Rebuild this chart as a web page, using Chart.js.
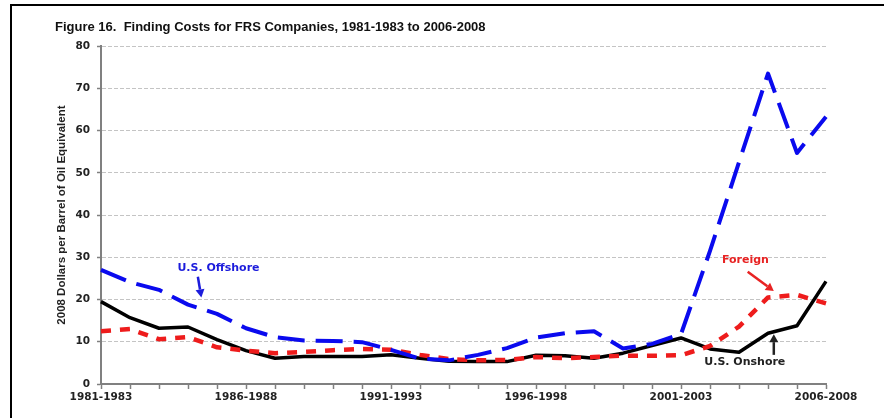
<!DOCTYPE html>
<html><head><meta charset="utf-8">
<script src="https://cdn.jsdelivr.net/npm/chart.js@4"></script>
<style>
html,body{margin:0;padding:0;background:#fff;}
#wrap{position:relative;width:884px;height:418px;overflow:hidden;background:#fff;}
#frame{position:absolute;left:10px;top:4px;width:900px;height:500px;border-top:2.5px solid #000;border-left:2px solid #000;}
canvas{position:absolute;left:0;top:0;}
</style></head><body>
<div id="wrap"><div id="frame"></div><canvas id="c" width="884" height="418"></canvas></div>
<script>
const categories = ['1981-1983','1982-1984','1983-1985','1984-1986','1985-1987','1986-1988','1987-1989','1988-1990','1989-1991','1990-1992','1991-1993','1992-1994','1993-1995','1994-1996','1995-1997','1996-1998','1997-1999','1998-2000','1999-2001','2000-2002','2001-2003','2002-2004','2003-2005','2004-2006','2005-2007','2006-2008'];
const onshore  = [19.5, 15.7, 13.2, 13.5, 10.5, 7.9, 6.1, 6.5, 6.5, 6.5, 6.9, 6.1, 5.4, 5.3, 5.3, 6.8, 6.7, 6.1, 7.3, 9.1, 10.9, 8.3, 7.5, 12.0, 13.8, 24.3];
const offshore = [27.0, 24.1, 22.3, 18.8, 16.6, 13.2, 11.1, 10.3, 10.2, 9.9, 8.1, 6.0, 5.6, 6.9, 8.5, 11.0, 12.0, 12.5, 8.4, 9.5, 11.8, 31.5, 52.5, 73.5, 54.7, 63.3];
const foreign  = [12.5, 13.0, 10.6, 11.1, 8.7, 7.9, 7.3, 7.6, 8.0, 8.3, 8.1, 6.9, 5.9, 5.6, 5.7, 6.4, 6.1, 6.4, 6.7, 6.7, 6.8, 9.0, 13.6, 20.5, 21.1, 19.1];
const yMin = 0, yMax = 80, yStep = 10;
const labelEvery = 5;

const notes = [
  {text:'U.S. Offshore', color:'#1c1cdc', at:[4.05,27.5], from:[3.34,25.4], to:[3.46,20.5]},
  {text:'Foreign',       color:'#e82323', at:[22.22,29.3], from:[22.3,26.6], to:[23.2,22.0]},
  {text:'U.S. Onshore',  color:'#222222', at:[22.2,5.2],  from:[23.2,6.9],  to:[23.2,11.8]}
];

const notesPlugin = {
  id:'notes',
  afterDatasetsDraw(chart){
    const {ctx, scales:{x, y}} = chart;
    notes.forEach(n => {
      ctx.save();
      ctx.fillStyle = n.color; ctx.strokeStyle = n.color;
      ctx.font = 'bold 11px "DejaVu Sans"';
      ctx.textAlign = 'center'; ctx.textBaseline = 'middle';
      ctx.fillText(n.text, x.getPixelForValue(n.at[0]), y.getPixelForValue(n.at[1]));
      const x1 = x.getPixelForValue(n.from[0]), y1 = y.getPixelForValue(n.from[1]);
      const x2 = x.getPixelForValue(n.to[0]),   y2 = y.getPixelForValue(n.to[1]);
      const ang = Math.atan2(y2 - y1, x2 - x1);
      const hl = 8, hw = 4.5;
      const bx = x2 - hl * Math.cos(ang), by = y2 - hl * Math.sin(ang);
      ctx.lineWidth = 2.5;
      ctx.beginPath(); ctx.moveTo(x1, y1); ctx.lineTo(bx, by); ctx.stroke();
      ctx.beginPath();
      ctx.moveTo(x2, y2);
      ctx.lineTo(bx + hw * Math.sin(ang), by - hw * Math.cos(ang));
      ctx.lineTo(bx - hw * Math.sin(ang), by + hw * Math.cos(ang));
      ctx.closePath(); ctx.fill();
      ctx.restore();
    });
  }
};

const tickFont = {family:'DejaVu Sans', weight:'bold', size:10.5};

new Chart(document.getElementById('c').getContext('2d'), {
  type:'line',
  data:{
    labels:categories,
    datasets:[
      {label:'U.S. Offshore', data:offshore, borderColor:'#0a0aee', borderWidth:4, borderDash:[27,11], pointRadius:0, tension:0, fill:false, borderCapStyle:'butt', borderJoinStyle:'round'},
      {label:'Foreign', data:foreign, borderColor:'#ee1c1c', borderWidth:4.5, borderDash:[10,9], pointRadius:0, tension:0, fill:false, borderCapStyle:'butt', borderJoinStyle:'round'},
      {label:'U.S. Onshore', data:onshore, borderColor:'#000000', borderWidth:3.5, pointRadius:0, tension:0, fill:false, borderJoinStyle:'round'}
    ]
  },
  options:{
    responsive:false, animation:false, devicePixelRatio:1,
    layout:{padding:{left:55, right:58, top:0, bottom:13}},
    plugins:{
      legend:{display:false}, tooltip:{enabled:false},
      title:{display:true, text:'Figure 16.  Finding Costs for FRS Companies, 1981-1983 to 2006-2008', align:'start', color:'#111',
        font:{family:'Liberation Sans', weight:'bold', size:13}, padding:{top:19.5, bottom:11}}
    },
    scales:{
      x:{
        type:'category', offset:false,
        afterFit(s){ s.height = 21; s.paddingLeft = 0; s.paddingRight = 0; },
        grid:{drawOnChartArea:false, tickLength:5, tickColor:'#808080', tickWidth:1.5},
        border:{color:'#808080', width:2},
        ticks:{autoSkip:false, maxRotation:0, minRotation:0, padding:2, color:'#222', font:tickFont,
          callback:(v, i) => i % labelEvery === 0 ? categories[i] : ''}
      },
      y:{
        min:yMin, max:yMax,
        afterFit(s){ s.width = 46; },
        ticks:{stepSize:yStep, padding:7, color:'#222', font:tickFont},
        grid:{color:'#c4c4c4', lineWidth:1, tickLength:4, tickColor:'#808080', tickWidth:1.5, tickBorderDash:[]},
        border:{color:'#808080', width:2, dash:[4,2]},
        title:{display:true, text:'2008 Dollars per Barrel of Oil Equivalent', color:'#222',
          font:{family:'Liberation Sans', weight:'bold', size:11.5}, padding:{top:0, bottom:0}}
      }
    }
  },
  plugins:[notesPlugin]
});
</script>
</body></html>
